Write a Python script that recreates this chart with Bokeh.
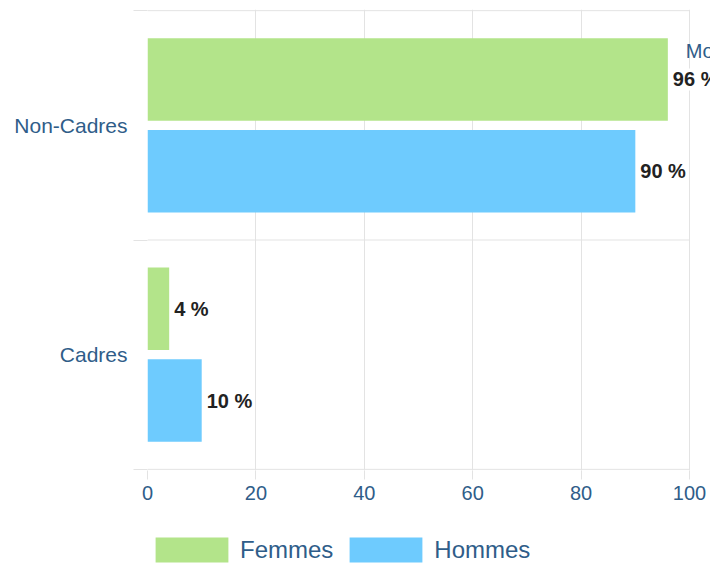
from bokeh.plotting import figure
from bokeh.layouts import column
from bokeh.models import (Range1d, FixedTicker, ColumnDataSource, LabelSet, Label,
                          Legend, LegendItem)
from bokeh.core.properties import value
from bokeh.embed import file_html
from bokeh.resources import INLINE

categories = ["Cadres", "Non-Cadres"]
femmes = [4, 96]
hommes = [10, 90]
x_ticks = [0, 20, 40, 60, 80, 100]
series_names = ["Femmes", "Hommes"]

GREEN = "#b3e48a"
BLUE = "#6ecbfe"
GRID = "#e3e3e3"
AXIS_TXT = "#2f5d89"
FONT = "Liberation Sans"

n = len(categories)
centers = [i + 0.5 for i in range(n)]
bounds = list(range(n + 1))

p = figure(width=710, height=512, output_backend="svg", toolbar_location=None,
           x_range=Range1d(0, 103.87), y_range=Range1d(-0.005, n + 0.005),
           min_border_left=147, min_border_right=0, min_border_top=9,
           min_border_bottom=42)
p.outline_line_color = None
p.background_fill_color = "white"
p.border_fill_color = "white"

# category separator lines (limited to the value axis extent)
p.segment(x0=x_ticks[0], x1=x_ticks[-1], y0=bounds, y1=bounds, line_color=GRID, line_width=1)

src_f = ColumnDataSource(dict(y=[c + 0.2 for c in centers], v=femmes,
                              t=[f"{v} %" for v in femmes]))
src_h = ColumnDataSource(dict(y=[c - 0.2 for c in centers], v=hommes,
                              t=[f"{v} %" for v in hommes]))

p.hbar(y="y", right="v", left=0, height=0.36, source=src_f,
       fill_color=GREEN, line_color=None)
p.hbar(y="y", right="v", left=0, height=0.36, source=src_h,
       fill_color=BLUE, line_color=None)

for src in (src_f, src_h):
    p.add_layout(LabelSet(x="v", y="y", text="t", source=src, x_offset=5,
                          text_baseline="middle", text_align="left",
                          text_font=value(FONT), text_font_size="20px",
                          text_font_style="bold", text_color="#222222",
                          background_fill_color="white"))

# axes
p.xaxis.ticker = FixedTicker(ticks=x_ticks)
p.xaxis.axis_line_color = None
p.xaxis.major_tick_out = 9
p.xaxis.major_tick_in = 0
p.xaxis.major_tick_line_color = GRID
p.xaxis.minor_tick_line_color = None
p.xaxis.major_label_text_font = FONT
p.xaxis.major_label_text_font_size = "20px"
p.xaxis.major_label_text_color = AXIS_TXT
p.xaxis.major_label_standoff = 6

p.yaxis.ticker = FixedTicker(ticks=centers, minor_ticks=bounds)
p.yaxis.major_label_overrides = {c: name for c, name in zip(centers, categories)}
p.yaxis.axis_line_color = None
p.yaxis.major_tick_out = 0
p.yaxis.major_tick_in = 0
p.yaxis.minor_tick_out = 14
p.yaxis.minor_tick_in = 0
p.yaxis.minor_tick_line_color = GRID
p.yaxis.major_label_text_font = FONT
p.yaxis.major_label_text_font_size = "21px"
p.yaxis.major_label_text_color = AXIS_TXT
p.yaxis.major_label_standoff = 6

p.xgrid.grid_line_color = GRID
p.ygrid.grid_line_color = None

p.add_layout(Label(x=99.3, y=1.826, text="Mo", text_font=FONT, text_font_size="20px",
                   text_color=AXIS_TXT, text_baseline="middle", text_align="left"))

# legend strip (swatch renderers lie outside its visible range)
pl = figure(width=710, height=53, output_backend="svg", toolbar_location=None,
            x_axis_type=None, y_axis_type=None, min_border=0,
            x_range=Range1d(0, 1), y_range=Range1d(0, 1))
pl.outline_line_color = None
pl.grid.grid_line_color = None
lf = pl.hbar(y=[-5], right=[1], left=0, height=1, fill_color=GREEN, line_color=None)
lh = pl.hbar(y=[-5], right=[1], left=0, height=1, fill_color=BLUE, line_color=None)

legend = Legend(items=[LegendItem(label=series_names[0], renderers=[lf]),
                       LegendItem(label=series_names[1], renderers=[lh])],
                location=(-1, 0), orientation="horizontal",
                glyph_width=91, glyph_height=31, label_standoff=3, spacing=7,
                padding=0, margin=0, border_line_color=None,
                background_fill_alpha=0,
                label_text_font=FONT, label_text_font_size="24px",
                label_text_color=AXIS_TXT)
pl.add_layout(legend, "center")

layout = column(p, pl, spacing=0)
open("out.html", "w").write(file_html(layout, INLINE))
